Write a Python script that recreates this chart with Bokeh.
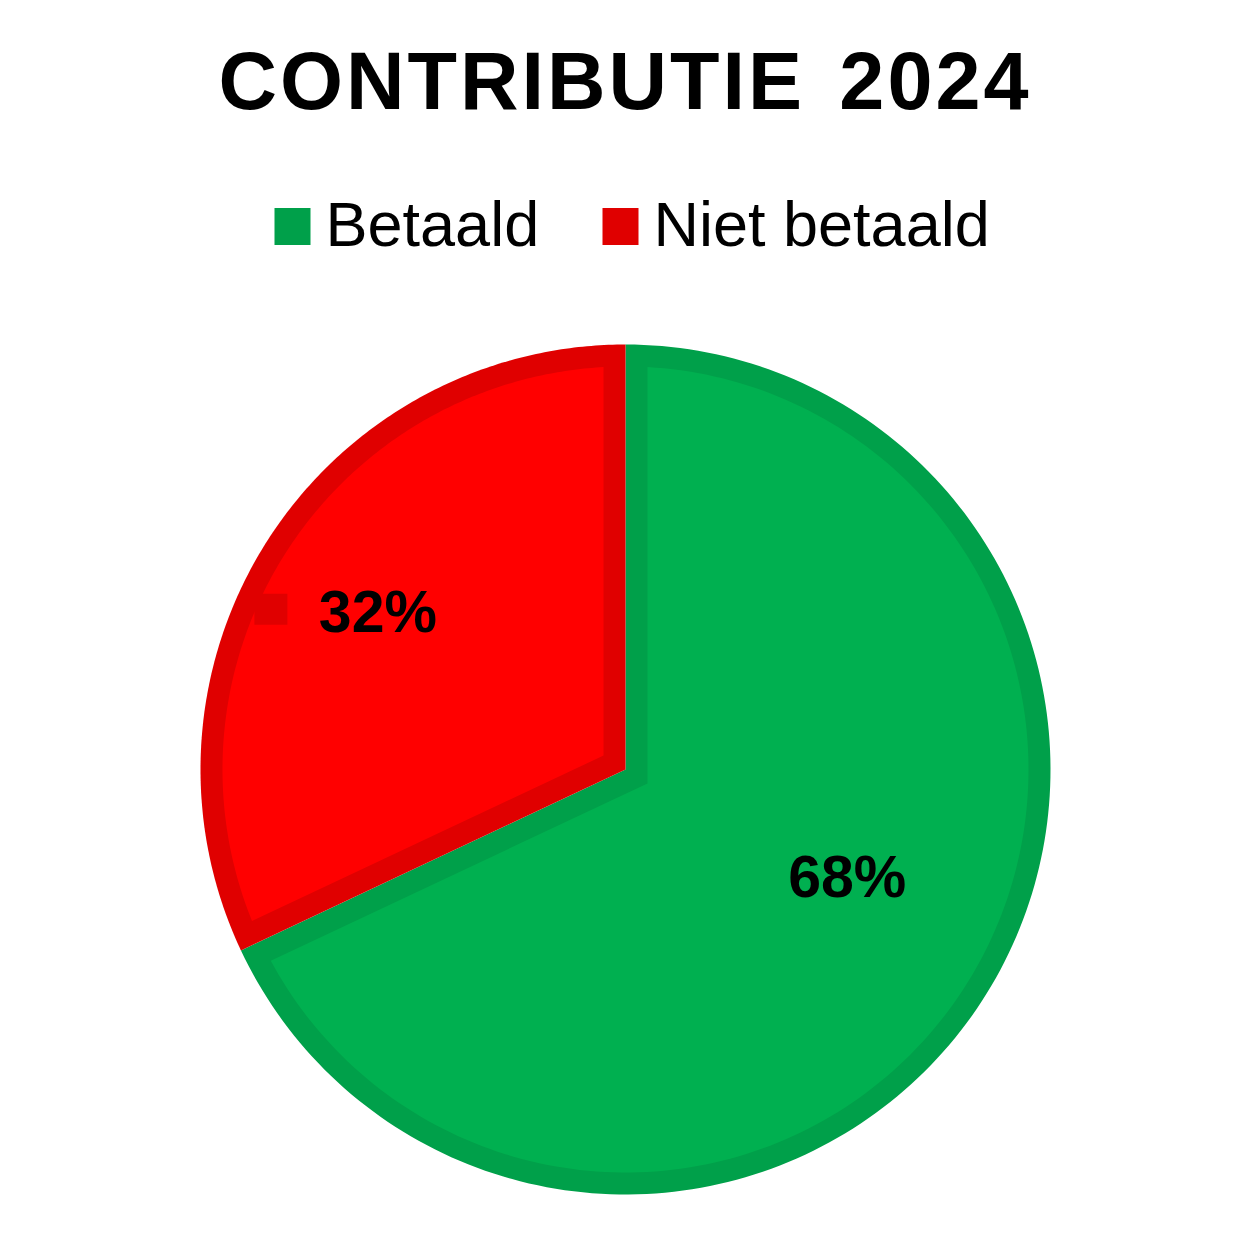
import numpy as np
from bokeh.plotting import figure
from bokeh.models import Range1d
from bokeh.core.properties import value
from bokeh.embed import file_html
from bokeh.resources import INLINE

# data
title_words = ["CONTRIBUTIE", "2024"]
categories = ["Betaald", "Niet betaald"]
shares = [68, 32]
labels = ["68%", "32%"]
fill_colors = ["#00B050", "#FF0000"]
edge_colors = ["#00A04A", "#E00000"]

# layout, in pixels (1 data unit = 1 px, pie centre at 0,0)
R = 425.0
W = 22.0
CX, CY = 625, 769
FONT = value("Liberation Sans")

p = figure(width=1234, height=1234, output_backend="svg", toolbar_location=None,
           x_range=Range1d(-CX, 1234 - CX), y_range=Range1d(CY - 1234, CY),
           min_border=0)
p.axis.visible = False
p.grid.visible = False
p.outline_line_color = None
p.background_fill_color = "white"


def arc(r, a0, a1, n=200):
    t = np.linspace(a0, a1, n)
    return r * np.cos(t), r * np.sin(t)


# slices clockwise from 12 o'clock
fracs = np.array(shares) / sum(shares)
start = np.pi / 2
outer_xs, outer_ys, inner_xs, inner_ys = [], [], [], []
mids = []
for f in fracs:
    span = 2 * np.pi * f
    end = start - span
    ax, ay = arc(R, start, end)
    outer_xs.append([0.0] + list(ax))
    outer_ys.append([0.0] + list(ay))
    # inset wedge with mitred apex
    half = span / 2
    mid = start - half
    mids.append(mid)
    d = W / np.sin(half)
    delta = np.arcsin(W / (R - W))
    bx, by = arc(R - W, start - delta, end + delta)
    inner_xs.append([d * np.cos(mid)] + list(bx))
    inner_ys.append([d * np.sin(mid)] + list(by))
    start = end

p.patches(outer_xs, outer_ys, fill_color=edge_colors, line_color=None)
p.patches(inner_xs, inner_ys, fill_color=fill_colors, line_color=None)

# data labels
label_r = [0.58, 0.69]
label_shift = [np.radians(6.5), 0.0]
lx = [R * k * np.cos(m + s) for k, m, s in zip(label_r, mids, label_shift)]
ly = [R * k * np.sin(m + s) for k, m, s in zip(label_r, mids, label_shift)]
p.text(x=lx, y=ly, text=labels, text_align="center", text_baseline="middle",
       text_font=FONT, text_font_style="bold",
       text_font_size="59px", text_color="black")
# stray legend key next to the small slice's label
p.rect(x=[lx[1] - 107], y=[ly[1] + 3], width=33, height=31,
       fill_color=edge_colors[1], line_color=None)

# title, letter-spaced: place each character on Arial Bold advances
adv = {"C": .722, "O": .778, "N": .722, "T": .611, "R": .722, "I": .278,
       "B": .722, "U": .722, "E": .667, "2": .556, "0": .556, "4": .556}
TS, SP = 81, 3.0
chars, cx = [], []
for word, x0, align in [(title_words[0], 222 - CX - 4, "left"),
                        (title_words[1], 1025 - CX + 3, "right")]:
    w = [adv[c] * TS + SP for c in word]
    total = sum(w) - SP
    pos = x0 if align == "left" else x0 - total
    for c, ww in zip(word, w):
        chars.append(c)
        cx.append(pos + adv[c] * TS / 2)
        pos += ww
p.text(x=cx, y=[CY - 80] * len(chars), text=chars, text_align="center",
       text_baseline="middle", text_font=FONT, text_font_style="bold",
       text_font_size=f"{TS}px", text_color="black")

# legend
key_x = [292 - CX, 620 - CX]
txt_x = [325 - CX, 653 - CX]
p.rect(x=key_x, y=[CY - 226] * 2, width=36, height=37,
       fill_color=edge_colors, line_color=None)
p.text(x=txt_x, y=[CY - 223] * 2, text=categories, text_align="left",
       text_baseline="middle", text_font=FONT,
       text_font_size="63px", text_color="black")

open("out.html", "w").write(file_html(p, INLINE))
